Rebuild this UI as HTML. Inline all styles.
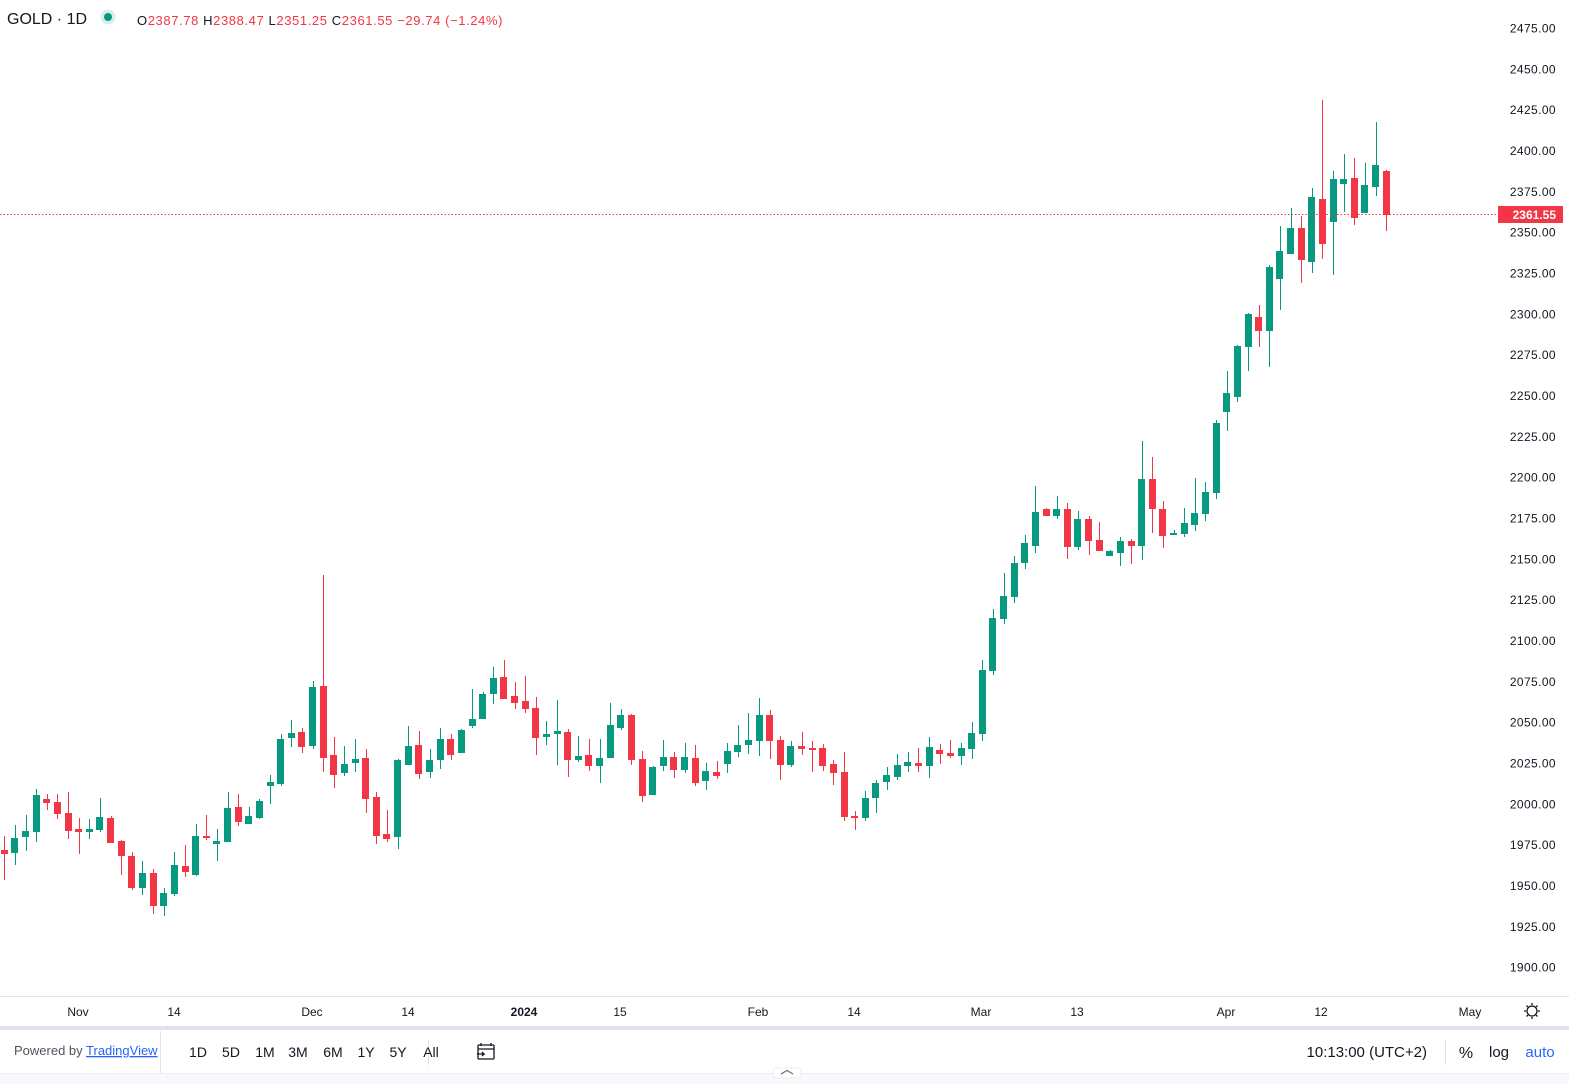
<!DOCTYPE html>
<html><head><meta charset="utf-8">
<style>
html,body{margin:0;padding:0;background:#fff;width:1569px;height:1084px;overflow:hidden;font-family:"Liberation Sans","DejaVu Sans",sans-serif;}
svg{position:absolute;left:0;top:0}
</style></head>
<body>
<svg id="s" width="1569" height="1084" xmlns="http://www.w3.org/2000/svg">
<rect x="0" y="0" width="1569" height="1084" fill="#fff"/>
<g id="c"></g>
<line x1="0" y1="214.5" x2="1498" y2="214.5" stroke="#f23645" stroke-width="1" stroke-dasharray="1.5 2"/>
<g font-size="12" fill="#131722" text-anchor="end" letter-spacing="0.4" id="py"></g>
<rect x="1498" y="206" width="65" height="17" fill="#f23645"/>
<text x="1556" y="219" font-size="12" font-weight="bold" fill="#fff" text-anchor="end">2361.55</text>
<line x1="0" y1="996.5" x2="1569" y2="996.5" stroke="#e0e3eb"/>
<g font-size="12" fill="#131722" text-anchor="middle">
<text x="78" y="1016">Nov</text><text x="174" y="1016">14</text><text x="312" y="1016">Dec</text><text x="408" y="1016">14</text>
<text x="524" y="1016" font-weight="bold">2024</text><text x="620" y="1016">15</text><text x="758" y="1016">Feb</text><text x="854" y="1016">14</text>
<text x="981" y="1016">Mar</text><text x="1077" y="1016">13</text><text x="1226" y="1016">Apr</text><text x="1321" y="1016">12</text><text x="1470" y="1016">May</text>
</g>
<g stroke="#131722" stroke-width="1.3" fill="none">
<circle cx="1532" cy="1011" r="5"/>
<path d="M1532 1003v2M1532 1017v2M1524 1011h2M1538 1011h2M1526.5 1005.5l1.4 1.4M1536.1 1015.1l1.4 1.4M1526.5 1016.5l1.4-1.4M1536.1 1006.9l1.4-1.4"/>
</g>
<rect x="0" y="1026" width="1569" height="4" fill="#e0e3eb"/>
<rect x="0" y="1073" width="1569" height="11" fill="#f8f9fd"/>
<line x1="0" y1="1073.5" x2="1569" y2="1073.5" stroke="#eceef2"/>
<rect x="773" y="1068" width="28" height="10" rx="3" fill="#fff" stroke="#eceef2"/>
<path d="M781 1074l6-3.5 6 3.5" stroke="#6a6d78" stroke-width="1.2" fill="none"/>
<line x1="160.5" y1="1031" x2="160.5" y2="1073" stroke="#e0e3eb"/>
<line x1="428.5" y1="1040" x2="428.5" y2="1065" stroke="#e0e3eb"/>
<line x1="1445.5" y1="1040" x2="1445.5" y2="1065" stroke="#e0e3eb"/>
<text x="14" y="1055" font-size="13" fill="#50535e">Powered by <tspan fill="#2962ff" text-decoration="underline">TradingView</tspan></text>
<g font-size="14" fill="#131722" text-anchor="middle">
<text x="198" y="1057">1D</text><text x="231" y="1057">5D</text><text x="265" y="1057">1M</text><text x="298" y="1057">3M</text>
<text x="333" y="1057">6M</text><text x="366" y="1057">1Y</text><text x="398" y="1057">5Y</text><text x="431" y="1057">All</text>
</g>
<g stroke="#131722" stroke-width="1.3" fill="none">
<rect x="478" y="1045" width="16" height="14" rx="1"/><path d="M481 1043v3M491 1043v3M478 1049h16M477 1054h7l-2-2M484 1054l-2 2"/>
</g>
<text x="1427" y="1057" font-size="15" fill="#131722" text-anchor="end">10:13:00 (UTC+2)</text>
<text x="1466" y="1058" font-size="16" fill="#131722" text-anchor="middle">%</text>
<text x="1499" y="1057" font-size="15" fill="#131722" text-anchor="middle">log</text>
<text x="1540" y="1057" font-size="15" fill="#2962ff" text-anchor="middle">auto</text>
<text x="7" y="24" font-size="16" fill="#131722">GOLD · 1D</text>
<circle cx="108" cy="17" r="7.5" fill="#d5f0ea"/><circle cx="108" cy="17" r="4" fill="#089981"/>
<text x="137" y="25" font-size="13" fill="#131722" letter-spacing="0.6">O<tspan fill="#f23645">2387.78</tspan> H<tspan fill="#f23645">2388.47</tspan> L<tspan fill="#f23645">2351.25</tspan> C<tspan fill="#f23645">2361.55</tspan> <tspan fill="#f23645">−29.74 (−1.24%)</tspan></text>
</svg>
<script>
var d=[
["r",850,854,836,880],["g",838,853,825,865],["g",831,837,815,851],["g",795,832,789,842],["r",799,803,794,810],
["r",802,814,794,819],["r",813,831,792,839],["r",829,832,818,854],["g",829,832,819,839],["g",817,830,798,832],
["r",818,843,816,843],["r",841,856,840,875],["r",856,888,852,890],["g",873,888,861,895],["r",873,906,869,914],
["g",893,906,888,916],["g",865,894,852,896],["r",866,872,845,877],["g",836,875,824,876],["r",836,838,815,840],
["g",841,844,829,861],["g",808,842,792,842],["r",807,822,794,826],["g",816,824,807,824],["g",801,818,799,819],
["g",782,786,775,804],["g",739,784,734,786],["g",733,738,720,747],["r",732,747,728,753],["g",687,746,681,749],
["r",686,758,575,772],["r",755,775,737,788],["g",764,773,746,776],["g",759,763,739,772],["r",758,799,749,813],
["r",797,836,792,844],["r",834,839,810,842],["g",760,837,759,849],["g",746,765,726,765],["r",745,774,731,779],
["g",760,772,749,778],["g",739,760,728,769],["r",739,755,734,760],["g",730,753,729,753],["g",719,726,689,728],
["g",694,719,692,719],["g",678,694,667,704],["r",677,699,660,699],["r",696,703,682,709],["r",701,709,676,713],
["r",708,738,697,755],["g",734,737,721,745],["g",731,734,700,765],["r",732,760,729,777],["g",756,760,736,762],
["r",755,766,739,771],["g",758,766,739,783],["g",725,758,703,758],["g",715,728,709,730],["r",715,760,714,765],
["r",759,796,751,802],["g",767,795,766,795],["g",757,766,740,771],["r",757,770,752,778],["g",757,770,743,773],
["r",758,783,745,786],["g",771,781,763,790],["r",772,776,761,779],["g",751,764,743,773],["g",745,752,725,757],
["g",740,745,713,754],["g",715,741,698,756],["r",715,741,710,759],["r",740,765,736,780],["g",746,765,741,767],
["r",746,749,732,755],["r",748,750,741,772],["r",748,766,744,771],["r",764,773,760,785],["r",772,817,752,821],
["r",816,818,811,830],["g",798,818,791,821],["g",783,798,780,813],["g",775,782,767,790],["g",765,777,754,780],
["g",762,766,752,772],["r",763,766,748,772],["g",747,766,737,778],["r",750,754,744,764],["r",753,756,740,758],
["g",748,756,743,765],["g",733,749,722,759],["g",670,734,660,741],["g",618,671,609,675],["g",596,619,573,624],
["g",563,597,556,603],["g",543,563,535,569],["g",512,546,486,553],["r",509,516,508,516],["g",509,516,496,519],
["r",509,547,503,559],["g",519,547,511,550],["r",519,541,516,555],["r",540,551,522,551],["g",551,556,550,556],
["g",541,553,537,566],["r",541,546,539,564],["g",479,546,441,560],["r",479,509,457,533],["r",509,536,501,548],
["g",533,535,530,535],["g",523,534,508,537],["g",513,525,478,531],["g",492,514,482,521],["g",423,493,420,499],
["g",393,412,371,431],["g",346,397,345,402],["g",314,347,313,371],["r",317,331,305,347],["g",267,331,265,367],
["g",251,279,226,310],["g",228,254,208,254],["r",228,260,216,283],["g",197,262,188,273],["r",199,244,100,259],
["g",179,222,171,275],["g",179,184,154,212],["r",178,218,158,225],["g",185,213,163,213],["g",165,187,122,196],
["r",171,215,170,231]];
var g=document.getElementById("c"),h="";
for(var i=0;i<d.length;i++){var c=d[i],x=4.3+i*10.63,col=c[0]=="g"?"#089981":"#f23645";
var bx=Math.round(x-3.5),cx=Math.round(x);
h+='<rect x="'+cx+'" y="'+c[3]+'" width="1" height="'+(c[4]-c[3])+'" fill="'+col+'"/>';
h+='<rect x="'+bx+'" y="'+c[1]+'" width="7" height="'+Math.max(2,c[2]-c[1])+'" fill="'+col+'"/>';}
g.innerHTML=h;
var p="",v=2475;for(var k=0;k<24;k++){var y=28+k*40.83;if(Math.abs(y-214)>10)p+='<text x="1556" y="'+(y+4.5).toFixed(1)+'">'+(v-25*k)+'.00</text>';}
document.getElementById("py").innerHTML=p;
</script>
</body></html>
